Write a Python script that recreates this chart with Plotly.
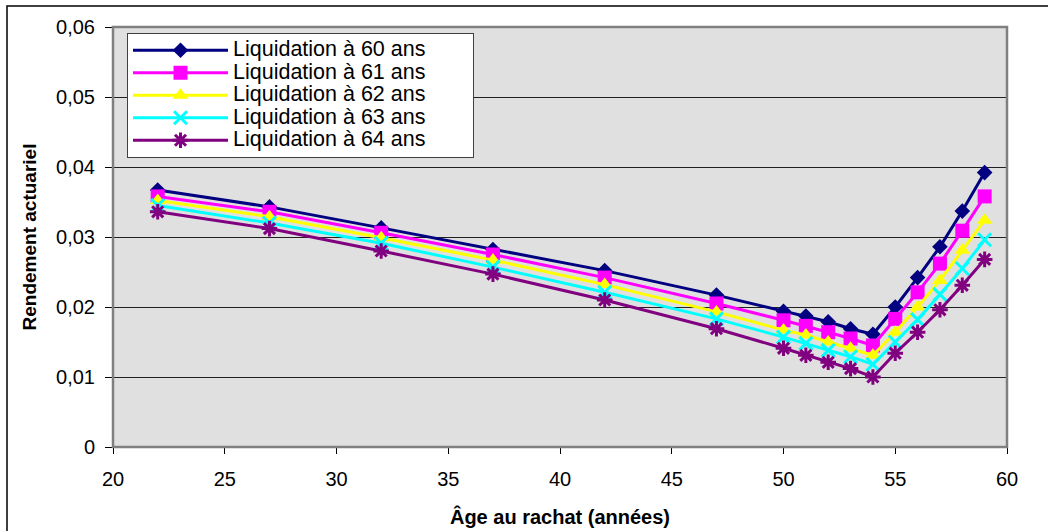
import plotly.graph_objects as go

# Âge au rachat (années)
ages = [22, 27, 32, 37, 42, 47, 50, 51, 52, 53, 54, 55, 56, 57, 58, 59]

# Rendement actuariel selon l'âge de liquidation
liq_60 = [0.0367, 0.0343, 0.0313, 0.0282, 0.0252, 0.0217, 0.0194, 0.0187, 0.0179, 0.0169, 0.0161, 0.0200, 0.0242, 0.0286, 0.0337, 0.0392]
liq_61 = [0.0358, 0.0336, 0.0306, 0.0275, 0.0242, 0.0205, 0.0181, 0.0173, 0.0164, 0.0155, 0.0145, 0.0183, 0.0221, 0.0262, 0.0309, 0.0358]
liq_62 = [0.0352, 0.0329, 0.0299, 0.0267, 0.0232, 0.0193, 0.0167, 0.0160, 0.0150, 0.0141, 0.0131, 0.0164, 0.0200, 0.0238, 0.0281, 0.0324]
liq_63 = [0.0345, 0.0320, 0.0291, 0.0257, 0.0221, 0.0183, 0.0157, 0.0148, 0.0138, 0.0129, 0.0118, 0.0150, 0.0182, 0.0218, 0.0255, 0.0296]
liq_64 = [0.0336, 0.0312, 0.0280, 0.0247, 0.0210, 0.0169, 0.0141, 0.0131, 0.0121, 0.0112, 0.0100, 0.0134, 0.0164, 0.0196, 0.0231, 0.0268]

series_names = ["Liquidation à 60 ans", "Liquidation à 61 ans", "Liquidation à 62 ans",
                "Liquidation à 63 ans", "Liquidation à 64 ans"]
series_values = [liq_60, liq_61, liq_62, liq_63, liq_64]

colors = ["#000080", "#FF00FF", "#FFFF00", "#00FFFF", "#800080"]
symbols = ["diamond", "square", "triangle-up", "x-thin", "asterisk"]
sizes = [12, 14, 14, 13, 13]

FONT = "Liberation Sans, Arial, sans-serif"
PAD = "&nbsp;" * 7  # right-hand breathing room inside the legend box

fig = go.Figure()
for name, vals, col, sym, sz in zip(series_names, series_values, colors, symbols, sizes):
    marker = dict(symbol=sym, size=sz, color=col)
    if sym in ("x-thin", "asterisk"):
        marker["line"] = dict(color=col, width=3)
    fig.add_trace(go.Scatter(
        x=ages, y=vals, mode="lines+markers",
        # larger text inside compact legend rows
        name=f"<span style='font-size:21.5px'>{name}{PAD}</span>",
        line=dict(color=col, width=3), marker=marker,
    ))

# plot-area geometry in pixels (for the frame shapes)
L, R, T, B = 113, 41, 27, 84
W, H = 1048, 531
pw, ph = W - L - R, H - T - B


def px_x(px):
    return (px - L) / pw


def px_y(py):
    return (H - B - py) / ph


fig.update_layout(
    width=W, height=H,
    margin=dict(l=L, r=R, t=T, b=B),
    paper_bgcolor="white",
    plot_bgcolor="#E0E0E0",
    separators=", ",
    font=dict(family=FONT, size=20, color="black"),
    showlegend=True,
    legend=dict(
        x=px_x(127), y=px_y(33), xanchor="left", yanchor="top",
        bgcolor="white", bordercolor="#404040", borderwidth=1,
        font=dict(family=FONT, size=15, color="black"),
        itemwidth=95, tracegroupgap=0,
    ),
    xaxis=dict(
        range=[20, 60], dtick=5, tick0=20,
        automargin=False,
        showgrid=False, zeroline=False,
        showline=True, linecolor="black", linewidth=1,
        ticks="outside", ticklen=6, tickcolor="black",
        ticklabelstandoff=8,
        tickfont=dict(family=FONT, size=20),
        title=dict(text="<b>Âge au rachat (années)</b>", font=dict(family=FONT, size=20), standoff=20),
    ),
    yaxis=dict(
        range=[0, 0.06], dtick=0.01, tick0=0,
        automargin=False,
        showgrid=True, gridcolor="#202020", gridwidth=1,
        zeroline=False,
        showline=True, linecolor="black", linewidth=1,
        ticks="outside", ticklen=7, tickcolor="black",
        ticklabelstandoff=6,
        tickfont=dict(family=FONT, size=20),
        title=dict(text="<b>Rendement actuariel</b>", font=dict(family=FONT, size=19), standoff=14),
    ),
    shapes=[
        # plot-area frame
        dict(type="rect", xref="paper", yref="paper", x0=0, x1=1, y0=0, y1=1,
             line=dict(color="#808080", width=2.5), layer="above"),
        # outer chart border
        dict(type="rect", xref="paper", yref="paper",
             x0=px_x(7), x1=px_x(1052), y0=px_y(540), y1=px_y(6),
             line=dict(color="black", width=1.5)),
    ],
)

fig.write_html("out.html")
